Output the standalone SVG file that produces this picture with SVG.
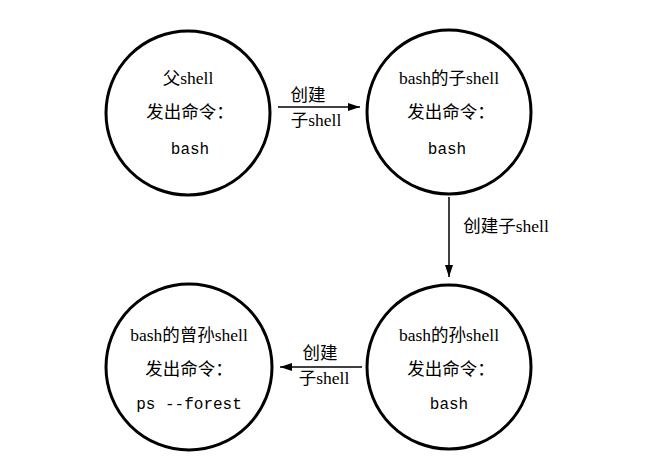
<svg xmlns="http://www.w3.org/2000/svg" width="669" height="462" viewBox="0 0 669 462">
<style>
.n{fill:#fff;stroke:#000;stroke-width:3}
.t{font-family:"Liberation Serif","Noto Sans CJK SC",serif;font-size:17.5px;text-anchor:middle;fill:#000}
.m{font-family:"Liberation Mono",monospace;font-size:16px;text-anchor:middle;fill:#000}
.c{stroke:#000;stroke-width:1.5;fill:none;marker-end:url(#a)}
</style>
<defs><marker id="a" markerWidth="12" markerHeight="8" refX="12" refY="4" orient="auto" markerUnits="userSpaceOnUse"><path d="M0,0L12,4L0,8z" fill="#000"/></marker></defs>
<rect width="669" height="462" fill="#fff"/>
<g id="n1"><circle class="n" cx="188" cy="113" r="82"/><text class="t" x="188" y="84">父shell</text><text class="t" x="190" y="118">发出命令：</text><text class="m" x="190" y="154">bash</text></g>
<g id="n2"><circle class="n" cx="449" cy="112" r="82"/><text class="t" x="449" y="84">bash的子shell</text><text class="t" x="451" y="118">发出命令：</text><text class="m" x="447" y="154">bash</text></g>
<g id="n3"><circle class="n" cx="449" cy="367" r="82"/><text class="t" x="449" y="341">bash的孙shell</text><text class="t" x="451" y="375">发出命令：</text><text class="m" x="449" y="409">bash</text></g>
<g id="n4"><circle class="n" cx="189" cy="367" r="83"/><text class="t" x="189" y="341">bash的曾孙shell</text><text class="t" x="189" y="375">发出命令：</text><text class="m" x="189" y="409">ps --forest</text></g>
<g id="edges">
<path class="c" d="M278,107H360"/>
<path class="c" d="M449,197V277"/>
<path class="c" d="M362,367H280"/>
<text class="t" x="308" y="101">创建</text><text class="t" x="316" y="126">子shell</text>
<text class="t" x="506" y="232">创建子shell</text>
<text class="t" x="320" y="359">创建</text><text class="t" x="324" y="384">子shell</text>
</g>
</svg>
